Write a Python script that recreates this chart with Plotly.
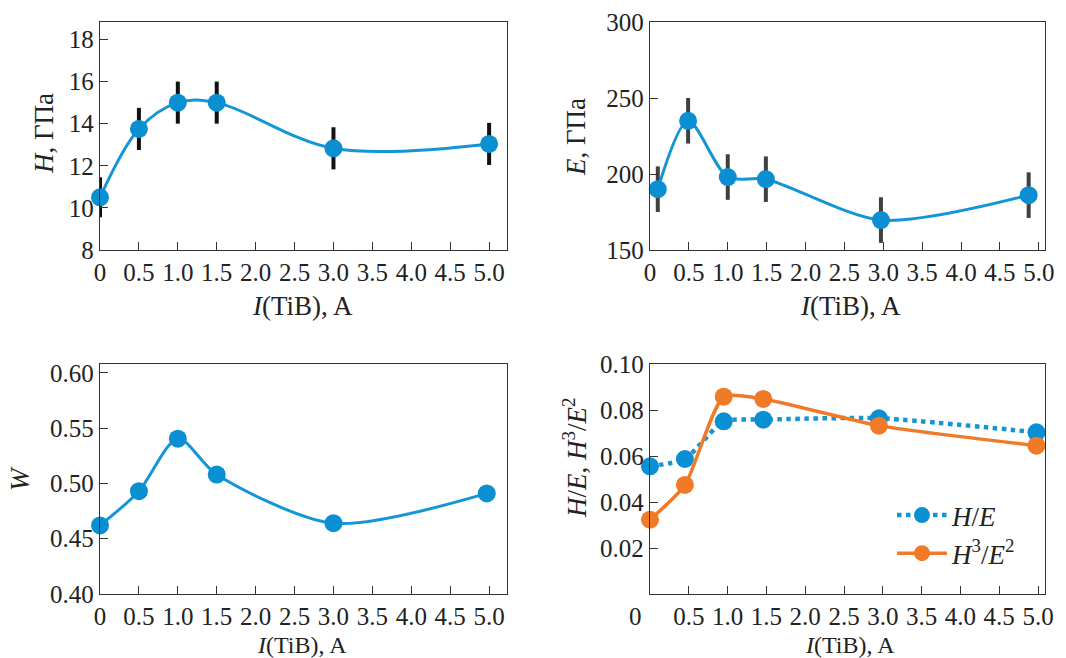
import plotly.graph_objects as go

# ---- data ----
x_H = [0, 0.5, 1.0, 1.5, 3.0, 5.0]
H = [10.5, 13.75, 15.0, 15.0, 12.83, 13.04]
H_err = [0.95, 1.0, 1.0, 1.0, 1.0, 1.0]

x_E = [0.1, 0.49, 1.0, 1.49, 2.97, 4.87]
E = [190, 235, 198, 196.6, 169.7, 186.1]
E_err = [15, 15, 15, 15, 15, 15]

x_W = [0, 0.5, 1.0, 1.5, 3.0, 4.97]
W = [0.462, 0.493, 0.5405, 0.508, 0.464, 0.491]

x_R = [0, 0.45, 0.95, 1.46, 2.95, 4.98]
H_E = [0.0555, 0.0587, 0.0751, 0.0758, 0.0764, 0.0703]
H3_E2 = [0.0323, 0.0474, 0.0858, 0.0848, 0.0732, 0.0645]

x_ticks = [0, 0.5, 1.0, 1.5, 2.0, 2.5, 3.0, 3.5, 4.0, 4.5, 5.0]
x_ticktext = ["0", "0.5", "1.0", "1.5", "2.0", "2.5", "3.0", "3.5", "4.0", "4.5", "5.0"]

BLUE = "#0a8fd2"
LINE_BLUE = "#1496d6"
ORANGE = "#f07a28"
FONT = "Liberation Serif"
TXT = "#222222"
W_PX, H_PX = 1066, 658

fig = go.Figure()

fig.add_trace(go.Scatter(
    x=x_H, y=H, xaxis="x", yaxis="y", mode="lines+markers",
    line=dict(color=LINE_BLUE, width=3, shape="spline", smoothing=1.0),
    marker=dict(color=BLUE, size=18),
    error_y=dict(type="data", array=H_err, color="#111111", thickness=4, width=0),
    cliponaxis=False, showlegend=False))

fig.add_trace(go.Scatter(
    x=x_E, y=E, xaxis="x2", yaxis="y2", mode="lines+markers",
    line=dict(color=LINE_BLUE, width=3, shape="spline", smoothing=0.8),
    marker=dict(color=BLUE, size=18),
    error_y=dict(type="data", array=E_err, color="#404040", thickness=4, width=0),
    cliponaxis=False, showlegend=False))

fig.add_trace(go.Scatter(
    x=x_W, y=W, xaxis="x3", yaxis="y3", mode="lines+markers",
    line=dict(color=LINE_BLUE, width=3, shape="spline", smoothing=0.8),
    marker=dict(color=BLUE, size=18),
    cliponaxis=False, showlegend=False))

fig.add_trace(go.Scatter(
    x=x_R, y=H_E, xaxis="x4", yaxis="y4", mode="lines+markers",
    name="<i>H</i>/<i>E</i>", legendgroup="a",
    line=dict(color=LINE_BLUE, width=4.5, dash="dot", shape="spline", smoothing=0.6),
    marker=dict(color=BLUE, size=18),
    cliponaxis=False))

fig.add_trace(go.Scatter(
    x=x_R, y=H3_E2, xaxis="x4", yaxis="y4", mode="lines+markers",
    name="<i>H</i><sup>3</sup>/<i>E</i><sup>2</sup>", legendgroup="b",
    line=dict(color=ORANGE, width=3.5, shape="spline", smoothing=0.6),
    marker=dict(color=ORANGE, size=18),
    cliponaxis=False))

def px_x(p):
    return p / W_PX

def px_y(p):
    return 1 - p / H_PX

axis_common = dict(
    showline=True, linecolor="#333333", linewidth=1.3, mirror=True,
    ticks="inside", ticklen=8, tickwidth=1.3, tickcolor="#333333",
    showgrid=False, zeroline=False, automargin=False,
    tickfont=dict(family=FONT, size=25, color=TXT),
)

dom_left = [px_x(100), px_x(507)]
dom_right = [px_x(650), px_x(1045)]
dom_top = [px_y(250), px_y(22)]
dom_bot = [px_y(594), px_y(364)]

fig.update_layout(
    template="none",
    width=W_PX, height=H_PX,
    margin=dict(l=0, r=0, t=0, b=0, pad=0, autoexpand=False),
    paper_bgcolor="white", plot_bgcolor="white",
    font=dict(family=FONT, size=25, color=TXT),
    xaxis=dict(domain=dom_left, anchor="y", range=[0, 5.23],
               tickvals=x_ticks, ticktext=x_ticktext, **axis_common),
    yaxis=dict(domain=dom_top, anchor="x", range=[8, 18.83],
               tickvals=[8, 10, 12, 14, 16, 18], **axis_common),
    xaxis2=dict(domain=dom_right, anchor="y2", range=[0, 5.08],
                tickvals=x_ticks, ticktext=x_ticktext, **axis_common),
    yaxis2=dict(domain=dom_top, anchor="x2", range=[150, 300],
                tickvals=[150, 200, 250, 300], **axis_common),
    xaxis3=dict(domain=dom_left, anchor="y3", range=[0, 5.23],
                tickvals=x_ticks, ticktext=x_ticktext, **axis_common),
    yaxis3=dict(domain=dom_bot, anchor="x3", range=[0.40, 0.608],
                tickvals=[0.40, 0.45, 0.50, 0.55, 0.60], tickformat=".2f", **axis_common),
    xaxis4=dict(domain=dom_right, anchor="y4", range=[0, 5.09],
                tickvals=x_ticks[1:], ticktext=x_ticktext[1:], **axis_common),
    yaxis4=dict(domain=dom_bot, anchor="x4", range=[0, 0.10],
                tickvals=[0.02, 0.04, 0.06, 0.08, 0.10], tickformat=".2f", **axis_common),
    legend=dict(x=px_x(892), y=px_y(491), xanchor="left", yanchor="top",
                bgcolor="rgba(0,0,0,0)", font=dict(family=FONT, size=27, color=TXT),
                tracegroupgap=0, itemwidth=50),
)

ann = []
title_font = dict(family=FONT, size=27, color=TXT)
# y titles
ann.append(dict(text="<i>H</i>, ГПа", x=px_x(44), y=px_y(134), textangle=-90))
ann.append(dict(text="<i>E</i>, ГПа", x=px_x(576), y=px_y(137), textangle=-90))
ann.append(dict(text="<i>W</i>", x=px_x(20), y=px_y(479), textangle=-90))
ann.append(dict(text="<i>H</i>/<i>E</i>, <i>H</i><sup>3</sup>/<i>E</i><sup>2</sup>",
                x=px_x(575), y=px_y(458), textangle=-90))
# x titles (top row)
ann.append(dict(text="<i>I</i>(TiB), A", x=px_x(302), y=px_y(306)))
ann.append(dict(text="<i>I</i>(TiB), A", x=px_x(850), y=px_y(306)))
for a in ann:
    a.update(xref="paper", yref="paper", xanchor="center", yanchor="middle",
             showarrow=False, font=title_font)
# x titles (bottom row, squeezed against the lower edge)
for xc in (302, 850):
    ann.append(dict(text="<i>I</i>(TiB), A", xref="paper", yref="paper",
                    x=px_x(xc), y=px_y(644.5), xanchor="center", yanchor="middle",
                    showarrow=False, font=dict(family=FONT, size=24, color=TXT)))
# zero label of the lower-right x axis, set to the left of the axis
ann.append(dict(text="0", xref="paper", yref="paper", x=px_x(635), y=px_y(616),
                xanchor="center", yanchor="middle", showarrow=False,
                font=dict(family=FONT, size=25, color=TXT)))
fig.update_layout(annotations=ann)

fig.write_html("out.html", config={"displayModeBar": False},
               post_script="document.body.style.margin='0px';document.body.style.overflow='hidden';")
